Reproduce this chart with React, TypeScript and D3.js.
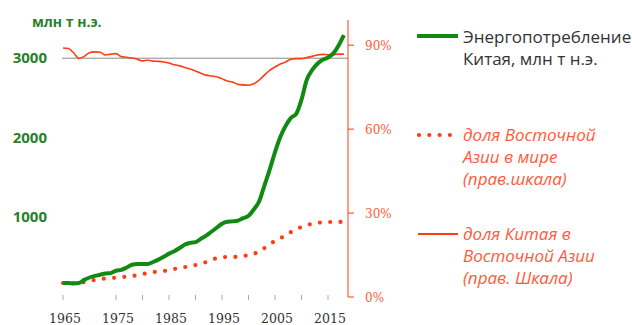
import React from "react";
import * as d3 from "d3";

// years on the x axis
const years = d3.range(1965, 2019);

// China energy consumption, Mtoe (left scale)
const chinaEnergy = [
  175, 175, 170, 175, 215, 245, 265, 280, 295, 300,
  330, 340, 370, 405, 415, 415, 415, 440, 470, 505,
  545, 575, 615, 660, 680, 690, 730, 770, 820, 870,
  920, 945, 950, 960, 990, 1020, 1100, 1200, 1400, 1600,
  1820, 2010, 2150, 2250, 2300, 2480, 2730, 2850, 2930, 2980,
  3010, 3060, 3160, 3290,
];

// share of China in East Asia, % (right scale)
const chinaShareEastAsia = [
  89.0, 88.8, 87.3, 85.3, 86.0, 87.3, 87.6, 87.5, 86.5, 86.8,
  87.0, 85.9, 85.7, 85.4, 85.0, 84.4, 84.6, 84.3, 84.2, 84.0,
  83.6, 83.0, 82.6, 82.0, 81.5, 80.8, 80.0, 79.3, 79.0, 78.7,
  78.0, 77.2, 76.8, 76.0, 75.8, 75.7, 76.2, 77.5, 79.3, 81.0,
  82.2, 83.3, 84.0, 85.0, 85.2, 85.2, 85.6, 86.0, 86.5, 86.7,
  86.6, 86.6, 86.8, 86.8,
];

// share of East Asia in the world, % (right scale)
const eastAsiaShareWorld = [
  5.0, 5.0, 5.0, 5.0, 5.3, 5.7, 6.1, 6.4, 6.6, 6.8,
  6.9, 7.1, 7.3, 7.5, 7.8, 8.2, 8.5, 8.9, 9.1, 9.3,
  9.6, 10.0, 10.3, 10.7, 11.0, 11.4, 11.9, 12.5, 13.2, 13.9,
  14.2, 14.3, 14.3, 14.4, 14.6, 15.0, 15.5, 16.1, 17.5, 18.9,
  20.0, 20.9, 22.2, 23.2, 24.3, 25.0, 25.6, 26.2, 26.5, 26.7,
  26.8, 26.8, 26.8, 26.9,
];

const leftTicks = [1000, 2000, 3000];
const rightTicks = [0, 30, 60, 90];
const xTicks = [1965, 1975, 1980, 1985, 1990, 1995, 2000, 2005, 2010, 2015];
const xLabels = [1965, 1975, 1985, 1995, 2005, 2015];

const legendEnergy = ["Энергопотребление", "Китая, млн т н.э."];
const legendEastAsia = ["доля Восточной", "Азии в мире", "(прав.шкала)"];
const legendChina = ["доля Китая в", "Восточной Азии", "(прав. Шкала)"];

const GREEN = "#118a11";
const GREEN_TEXT = "#2a7f2a";
const RED = "#ff3c14";
const RED_TEXT = "#ff5a3a";

const App = () => {
  // scales
  const x = d3.scaleLinear().domain([1965, 2015]).range([63, 328]);
  const yLeft = d3.scaleLinear().domain([0, 3480]).range([297, 20]);
  const yRight = d3.scaleLinear().domain([0, 99]).range([297, 20]);

  // line generators
  const energyLine = d3
    .line<number>()
    .x((d, i) => x(years[i]))
    .y((d) => yLeft(d))
    .curve(d3.curveMonotoneX);
  const shareLine = d3
    .line<number>()
    .x((d, i) => x(years[i]))
    .y((d) => yRight(d))
    .curve(d3.curveMonotoneX);

  const axisX = 348;

  return (
    <svg
      width={632}
      height={325}
      style={{ position: "absolute", left: 0, top: 0, background: "#fff" }}
    >
      {/* axis title */}
      <text x={32} y={27} fontFamily="Open Sans" fontWeight="bold" fontSize={14} fill={GREEN_TEXT}>
        млн т н.э.
      </text>

      {/* left tick labels */}
      {leftTicks.map((t) => (
        <text
          key={t}
          x={47}
          y={yLeft(t) + 5}
          textAnchor="end"
          fontFamily="Open Sans"
          fontWeight="bold"
          fontSize={15}
          fill={GREEN_TEXT}
        >
          {t}
        </text>
      ))}

      {/* gridline at 3000 */}
      <line x1={62} x2={axisX} y1={yLeft(3000)} y2={yLeft(3000)} stroke="#8a8a8a" strokeWidth={1} />

      {/* right axis */}
      <line x1={axisX} x2={axisX} y1={20} y2={yRight(0)} stroke={RED} strokeWidth={1} />
      {rightTicks.map((t) => (
        <g key={t}>
          <line x1={axisX} x2={axisX + 6} y1={yRight(t)} y2={yRight(t)} stroke={RED} strokeWidth={1} />
          <text x={365} y={yRight(t) + 5} fontFamily="DejaVu Serif" fontSize={12} fill={RED_TEXT}>
            {t}%
          </text>
        </g>
      ))}

      {/* x axis ticks and labels */}
      {xTicks.map((t) => (
        <line key={t} x1={x(t)} x2={x(t)} y1={295} y2={300} stroke="#aaa" strokeWidth={1} />
      ))}
      {xLabels.map((t) => (
        <text
          key={t}
          x={x(t) + 2}
          y={323}
          textAnchor="middle"
          fontFamily="DejaVu Serif"
          fontSize={12.5}
          fill="#333"
        >
          {t}
        </text>
      ))}

      {/* series */}
      <path d={shareLine(chinaShareEastAsia) || ""} fill="none" stroke={RED} strokeWidth={1.6} />
      <path
        d={shareLine(eastAsiaShareWorld) || ""}
        fill="none"
        stroke={RED}
        strokeWidth={4.2}
        strokeLinecap="round"
        strokeDasharray="0 10.3"
      />
      <path d={energyLine(chinaEnergy) || ""} fill="none" stroke={GREEN} strokeWidth={4} strokeLinejoin="round" />

      {/* legend */}
      <line x1={417} x2={458} y1={36} y2={36} stroke={GREEN} strokeWidth={4} />
      {legendEnergy.map((s, i) => (
        <text key={s} x={463} y={43 + i * 22} fontFamily="Open Sans" fontSize={17} fill="#333">
          {s}
        </text>
      ))}

      <line
        x1={419}
        x2={452}
        y1={135}
        y2={135}
        stroke={RED}
        strokeWidth={4.2}
        strokeLinecap="round"
        strokeDasharray="0 10.3"
      />
      {legendEastAsia.map((s, i) => (
        <text key={s} x={463} y={141 + i * 22} fontFamily="Open Sans" fontStyle="italic" fontSize={17} fill={RED_TEXT}>
          {s}
        </text>
      ))}

      <line x1={418} x2={458} y1={234} y2={234} stroke={RED} strokeWidth={2} />
      {legendChina.map((s, i) => (
        <text key={s} x={463} y={240 + i * 22} fontFamily="Open Sans" fontStyle="italic" fontSize={17} fill={RED_TEXT}>
          {s}
        </text>
      ))}
    </svg>
  );
};

export default App;
